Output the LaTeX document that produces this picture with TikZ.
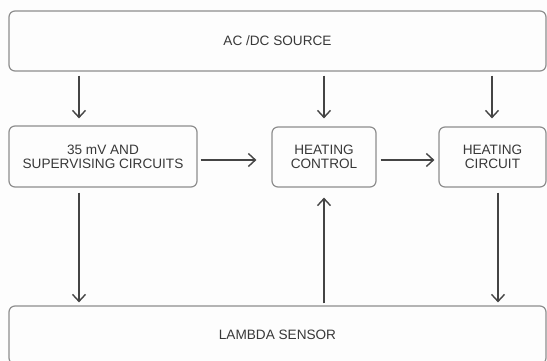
\documentclass[tikz,border=0pt]{standalone}
\usepackage{fontspec}
\setmainfont{Liberation Sans}
\usetikzlibrary{arrows.meta}
\definecolor{boxline}{HTML}{8E8E8E}
\definecolor{arrline}{HTML}{444444}
\definecolor{txt}{HTML}{383838}
\definecolor{bg}{HTML}{FDFDFD}
\tikzset{
  blk/.style={draw=boxline, line width=1.2pt, rounded corners=6pt, rectangle,
    align=center, text=txt, inner sep=0pt,
    font=\fontsize{13.6}{14}\selectfont},
  arr/.style={draw=arrline, line width=1.4pt,
    -{Straight Barb[length=7pt,width=13pt,line width=1.4pt]}},
}
\begin{document}
\begin{tikzpicture}[x=1pt,y=-1pt]
\useasboundingbox (0,0) rectangle (547,361);
\fill[bg] (0,0) rectangle (547,361);
% blocks
\node[blk, minimum width=537pt, minimum height=60pt] (src) at (277.5,41) {AC /DC SOURCE};
\node[blk, minimum width=188pt, minimum height=61pt] (sup) at (103,156.5) {35 mV AND\\SUPERVISING CIRCUITS};
\node[blk, minimum width=104pt, minimum height=60pt] (hctl) at (324,157) {HEATING\\CONTROL};
\node[blk, minimum width=107pt, minimum height=60pt] (hcir) at (492.5,157) {HEATING\\CIRCUIT};
\node[blk, minimum width=537pt, minimum height=58pt, text depth=0pt] (lam) at (277.5,335) {LAMBDA SENSOR};
% helper coordinates
\coordinate (xl) at (79,0);
\coordinate (xc) at (324,0);
\coordinate (xr) at (492,0);
\coordinate (xrb) at (498,0);
\coordinate (hy) at (0,160);
% connectors
\draw[arr, shorten <=4pt, shorten >=7pt] (src.south -| xl) -- (sup.north -| xl);
\draw[arr, shorten <=4pt, shorten >=8pt] (src.south -| xc) -- (hctl.north -| xc);
\draw[arr, shorten <=4pt, shorten >=8pt] (src.south -| xr) -- (hcir.north -| xr);
\draw[arr, shorten <=3pt, shorten >=15pt] (sup.east |- hy) -- (hctl.west |- hy);
\draw[arr, shorten <=4pt, shorten >=4pt] (hctl.east |- hy) -- (hcir.west |- hy);
\draw[arr, shorten <=5pt, shorten >=3pt] (sup.south -| xl) -- (lam.north -| xl);
\draw[arr, shorten <=5pt, shorten >=3pt] (hcir.south -| xrb) -- (lam.north -| xrb);
\draw[arr, shorten <=2pt, shorten >=10pt] (lam.north -| xc) -- (hctl.south -| xc);
\end{tikzpicture}
\end{document}
